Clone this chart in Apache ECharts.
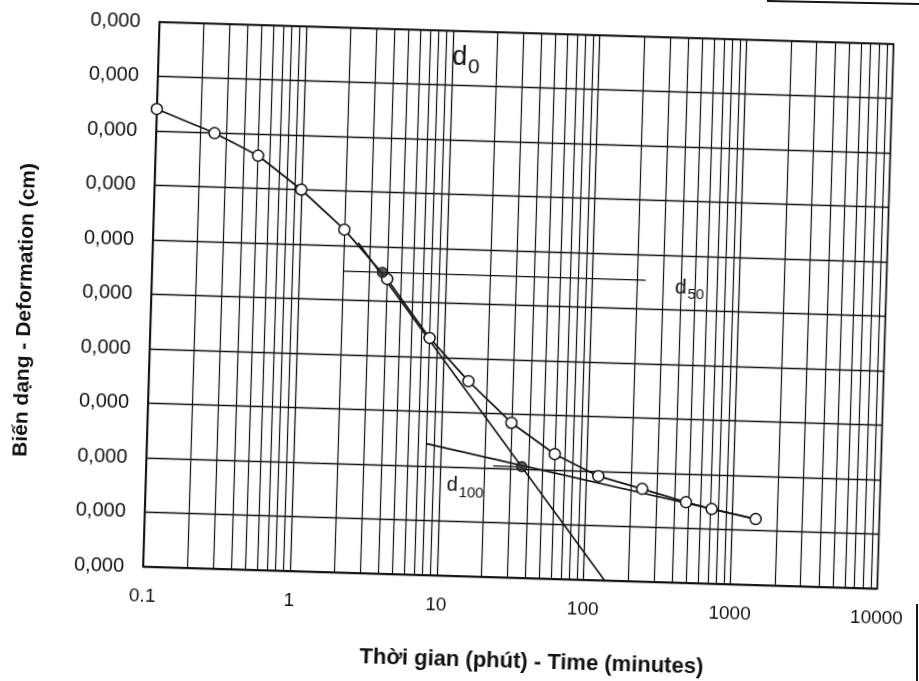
<!DOCTYPE html>
<html><head><meta charset="utf-8">
<script src="https://cdn.jsdelivr.net/npm/echarts@6/dist/echarts.min.js"></script>
<style>
html,body{margin:0;padding:0;background:#fff;overflow:hidden}
#wrap{position:relative;width:919px;height:681px;overflow:hidden;background:#fff}
#chart{position:absolute;left:0;top:0;width:919px;height:681px;transform:rotate(1.72deg);transform-origin:459.5px 340.5px}
.scan{position:absolute;background:#151515}
</style></head><body>
<div id="wrap">
<div id="chart"></div>
<div class="scan" style="left:767px;top:0;width:153px;height:2px;transform:rotate(1.1deg);transform-origin:0 0"></div>
<div class="scan" style="left:916px;top:604px;width:2px;height:77px"></div>
</div>
<script>
// ---- data ----
const times       = [0.1, 0.25, 0.5, 1, 2, 4, 8, 15, 30, 60, 120, 240, 480, 720, 1440];   // minutes
const deformation = [1.60, 2.01, 2.40, 3.00, 3.71, 4.59, 5.65, 6.42, 7.16, 7.71, 8.09, 8.30, 8.52, 8.63, 8.79]; // grid rows (0 = top)

const xTickValues = [0.1, 1, 10, 100, 1000, 10000];
const xTickLabels = ['0.1', '1', '10', '100', '1000', '10000'];
const yTickLabels = ['0,000','0,000','0,000','0,000','0,000','0,000','0,000','0,000','0,000','0,000','0,000'];

// Casagrande construction
const steepTangent = [[2.5, 3.94], [139, 10]];
const flatTangent  = [[8, 7.59], [1440, 8.79]];
const d50Line      = [[2, 4.47], [230, 4.47]];
const d100Tick     = [[23, 7.96], [36, 7.96]];
const keyPoints    = [[3.7, 4.47], [36, 7.96]];

// annotation anchors (left edge, vertical middle) in data units
const annotations = [
  { main: 'd', sub: '0',   t: 10,   row: 0.55, mainSize: 27, subSize: 21, subDrop: 13 },
  { main: 'd', sub: '50',  t: 365,  row: 4.63, mainSize: 21, subSize: 15, subDrop: 10 },
  { main: 'd', sub: '100', t: 11.2, row: 8.39, mainSize: 20, subSize: 15, subDrop: 10 }
];

const xTitle = 'Thời gian (phút) - Time (minutes)';
const yTitle = 'Biến dạng - Deformation (cm)';

// minor log gridlines (2..9 in each decade)
const minorTimes = [];
[0.1, 1, 10, 100, 1000].forEach(dec => { for (let m = 2; m <= 9; m++) minorTimes.push(+(m * dec).toPrecision(6)); });

const INK = '#111';
const FONT = '"Liberation Sans", Arial, sans-serif';

const chart = echarts.init(document.getElementById('chart'), null, { renderer: 'canvas' });

const titleGraphics = [
  { id: 'xt', type: 'text', x: 541, y: 660, style: { text: xTitle, fill: '#111', font: 'bold 22px ' + FONT, align: 'center', verticalAlign: 'middle' } },
  { id: 'yt', type: 'text', x: 24, y: 323, rotation: Math.PI / 2, style: { text: yTitle, fill: '#111', font: 'bold 21px ' + FONT, align: 'center', verticalAlign: 'middle' } }
];

chart.setOption({
  backgroundColor: '#fff',
  animation: false,
  textStyle: { fontFamily: FONT },
  grid: { left: 150, right: 34.5, top: 31, bottom: 105, containLabel: false, outerBoundsMode: 'none',
          show: true, borderColor: INK, borderWidth: 1.5, backgroundColor: 'transparent' },
  xAxis: {
    type: 'log', logBase: 10, min: 0.1, max: 10000,
    axisLine: { show: true, onZero: false, lineStyle: { color: INK, width: 1.5 } },
    axisTick: { show: false },
    splitLine: { show: true, lineStyle: { color: INK, width: 1.3 } },
    axisLabel: {
      show: true, margin: 20, color: '#111', fontSize: 19, fontFamily: FONT,
      formatter: v => {
        let best = 0;
        xTickValues.forEach((tv, i) => { if (Math.abs(Math.log10(tv) - Math.log10(v)) < Math.abs(Math.log10(xTickValues[best]) - Math.log10(v))) best = i; });
        return xTickLabels[best];
      }
    }
  },
  yAxis: {
    type: 'value', min: 0, max: 10, interval: 1, inverse: true,
    axisLine: { show: true, onZero: false, lineStyle: { color: INK, width: 1.5 } },
    axisTick: { show: false },
    splitLine: { show: true, lineStyle: { color: INK, width: 1.3 } },
    axisLabel: { show: true, margin: 19, color: '#111', fontSize: 20, fontFamily: FONT,
      formatter: (v, i) => yTickLabels[Math.round(v)] }
  },
  graphic: titleGraphics,
  series: [
    {
      name: 'minor', type: 'line', data: [], silent: true, z: 1,
      markLine: { silent: true, symbol: ['none', 'none'], animation: false, label: { show: false },
        lineStyle: { color: INK, width: 1.2, type: 'solid' },
        emphasis: { disabled: true },
        data: minorTimes.map(v => ({ xAxis: v })) }
    },
    { name: 'steep', type: 'line', data: steepTangent, symbol: 'none', silent: true, z: 3,
      lineStyle: { color: INK, width: 1.6 } },
    { name: 'flat', type: 'line', data: flatTangent, symbol: 'none', silent: true, z: 3,
      lineStyle: { color: INK, width: 1.6 } },
    { name: 'd50', type: 'line', data: d50Line, symbol: 'none', silent: true, z: 3,
      lineStyle: { color: INK, width: 1.4 } },
    { name: 'd100', type: 'line', data: d100Tick, symbol: 'none', silent: true, z: 3,
      lineStyle: { color: INK, width: 1.2 } },
    {
      name: 'curve', type: 'line', z: 5,
      data: times.map((t, i) => [t, deformation[i]]),
      symbol: 'circle', symbolSize: 11, showAllSymbol: true,
      itemStyle: { color: '#fff', borderColor: INK, borderWidth: 1.5 },
      lineStyle: { color: INK, width: 1.7 }
    },
    {
      name: 'key', type: 'scatter', z: 6, data: keyPoints, symbol: 'circle', symbolSize: 10,
      itemStyle: { color: '#333', borderColor: INK, borderWidth: 1.4 }
    }
  ]
});

// place the d0 / d50 / d100 annotations through the chart's own scales
const annGraphics = annotations.map((a, i) => {
  const p = chart.convertToPixel({ gridIndex: 0 }, [a.t, a.row]);
  return {
    id: 'ann' + i, type: 'text', x: p[0], y: p[1], z: 100,
    style: {
      text: '{m|' + a.main + '}{s|' + a.sub + '}',
      align: 'left', verticalAlign: 'middle',
      rich: {
        m: { fontSize: a.mainSize, fontFamily: FONT, fill: '#111', verticalAlign: 'top' },
        s: { fontSize: a.subSize, fontFamily: FONT, fill: '#111', verticalAlign: 'top', padding: [a.subDrop, 0, 0, 1] }
      }
    }
  };
});
chart.setOption({ graphic: titleGraphics.concat(annGraphics) });
</script>
</body></html>
